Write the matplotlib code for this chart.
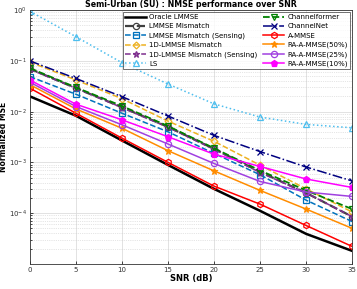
import numpy as np
import matplotlib.pyplot as plt

snr = [0, 5, 10, 15, 20, 25, 30, 35]

oracle_lmmse = [0.020, 0.0083, 0.0027, 0.00089, 0.00030, 0.000111, 3.9e-5, 1.8e-5]
lmmse_mis = [0.070, 0.029, 0.0122, 0.0050, 0.00185, 0.00065, 0.00025, 8.5e-5]
lmmse_mis_sens = [0.049, 0.022, 0.0093, 0.0040, 0.0015, 0.00057, 0.00018, 6.8e-5]
lmmse1d_mis = [0.095, 0.042, 0.018, 0.0065, 0.0026, 0.00088, 0.00030, 0.000105]
lmmse1d_mis_sens = [0.068, 0.029, 0.0120, 0.0049, 0.0018, 0.00063, 0.00025, 8.5e-5]
ls = [0.95, 0.30, 0.092, 0.035, 0.0142, 0.0078, 0.0056, 0.0048]
channelformer = [0.072, 0.030, 0.0129, 0.0052, 0.0019, 0.00069, 0.00028, 0.000120]
channelnet = [0.100, 0.045, 0.0197, 0.0082, 0.0034, 0.00163, 0.00081, 0.00043]
a_mmse = [0.029, 0.0093, 0.0030, 0.0010, 0.00034, 0.00015, 5.7e-5, 2.2e-5]
ra_50 = [0.034, 0.0113, 0.0047, 0.0017, 0.00068, 0.00028, 0.00012, 5.0e-5]
ra_25 = [0.038, 0.0126, 0.0055, 0.0023, 0.00095, 0.00042, 0.00026, 0.000213]
ra_10 = [0.042, 0.014, 0.0069, 0.0032, 0.00145, 0.00083, 0.00047, 0.00032]

series = [
    ("Oracle LMMSE", oracle_lmmse, dict(color="black", ls="-", lw=1.8, marker=None)),
    ("LMMSE Mismatch", lmmse_mis, dict(color="#404040", ls="--", lw=1.6, marker="o", mfc="none")),
    ("LMMSE Mismatch (Sensing)", lmmse_mis_sens, dict(color="#0072BD", ls="--", lw=1.1, marker="s", mfc="none")),
    ("1D-LMMSE Mismatch", lmmse1d_mis, dict(color="#EDB120", ls="--", lw=1.1, marker="D", mfc="none", ms=3.5)),
    ("1D-LMMSE Mismatch (Sensing)", lmmse1d_mis_sens, dict(color="#7E2F8E", ls="--", lw=1.1, marker="*", mfc="none")),
    ("LS", ls, dict(color="#4DBEEE", ls=":", lw=1.1, marker="^", mfc="none")),
    ("Channelformer", channelformer, dict(color="#008000", ls="--", lw=1.3, marker="v", mfc="none")),
    ("ChannelNet", channelnet, dict(color="#000080", ls="-.", lw=1.1, marker="x")),
    ("A-MMSE", a_mmse, dict(color="#FF0000", ls="-", lw=1.1, marker="h", mfc="none")),
    ("RA-A-MMSE(50%)", ra_50, dict(color="#FF8C00", ls="-", lw=1.1, marker="*")),
    ("RA-A-MMSE(25%)", ra_25, dict(color="#A040E0", ls="-", lw=1.1, marker="o", mfc="none")),
    ("RA-A-MMSE(10%)", ra_10, dict(color="#FF00FF", ls="-", lw=1.1, marker="p")),
]

fig = plt.figure(figsize=(3.57, 2.89), dpi=100)
ax = fig.add_axes([0.0835, 0.087, 0.903, 0.878])

for name, vals, st in series:
    st = dict(st)
    ms = st.pop("ms", 4.5)
    ax.semilogy(snr, vals, label=name, ms=ms, mew=0.9, **st)

ax.set_xlim(0, 35)
ax.set_ylim(1e-5, 1)
ax.set_xticks(snr)
ax.set_yticks([1e-4, 1e-3, 1e-2, 1e-1, 1e0])
ax.tick_params(axis="both", which="both", direction="in", labelsize=5, pad=2,
               length=2.5, width=0.5, labelcolor="#333333")
ax.tick_params(which="minor", length=1.5)
ax.grid(True, which="major", color="#dddddd", lw=0.6)
ax.grid(True, which="minor", color="#cccccc", lw=0.5, ls=":")
for s in ax.spines.values():
    s.set_linewidth(0.6)
    s.set_color("#333333")

ax.set_title("Semi-Urban (SU) : NMSE performance over SNR", fontsize=5.7,
             fontweight="bold", pad=2)
ax.set_xlabel("SNR (dB)", fontsize=6, fontweight="bold", labelpad=1)
ax.set_ylabel("Normalized MSE", fontsize=5.5, fontweight="bold")
ax.yaxis.set_label_coords(-0.068, 0.5)

leg = ax.legend(ncol=2, loc="upper right", fontsize=5, frameon=True,
                fancybox=False, edgecolor="#333333", handlelength=3,
                columnspacing=0.8, labelspacing=0.45, borderpad=0.3,
                handletextpad=0.5, borderaxespad=0.3)
leg.get_frame().set_linewidth(0.6)

fig.savefig("out.png", dpi=100)
